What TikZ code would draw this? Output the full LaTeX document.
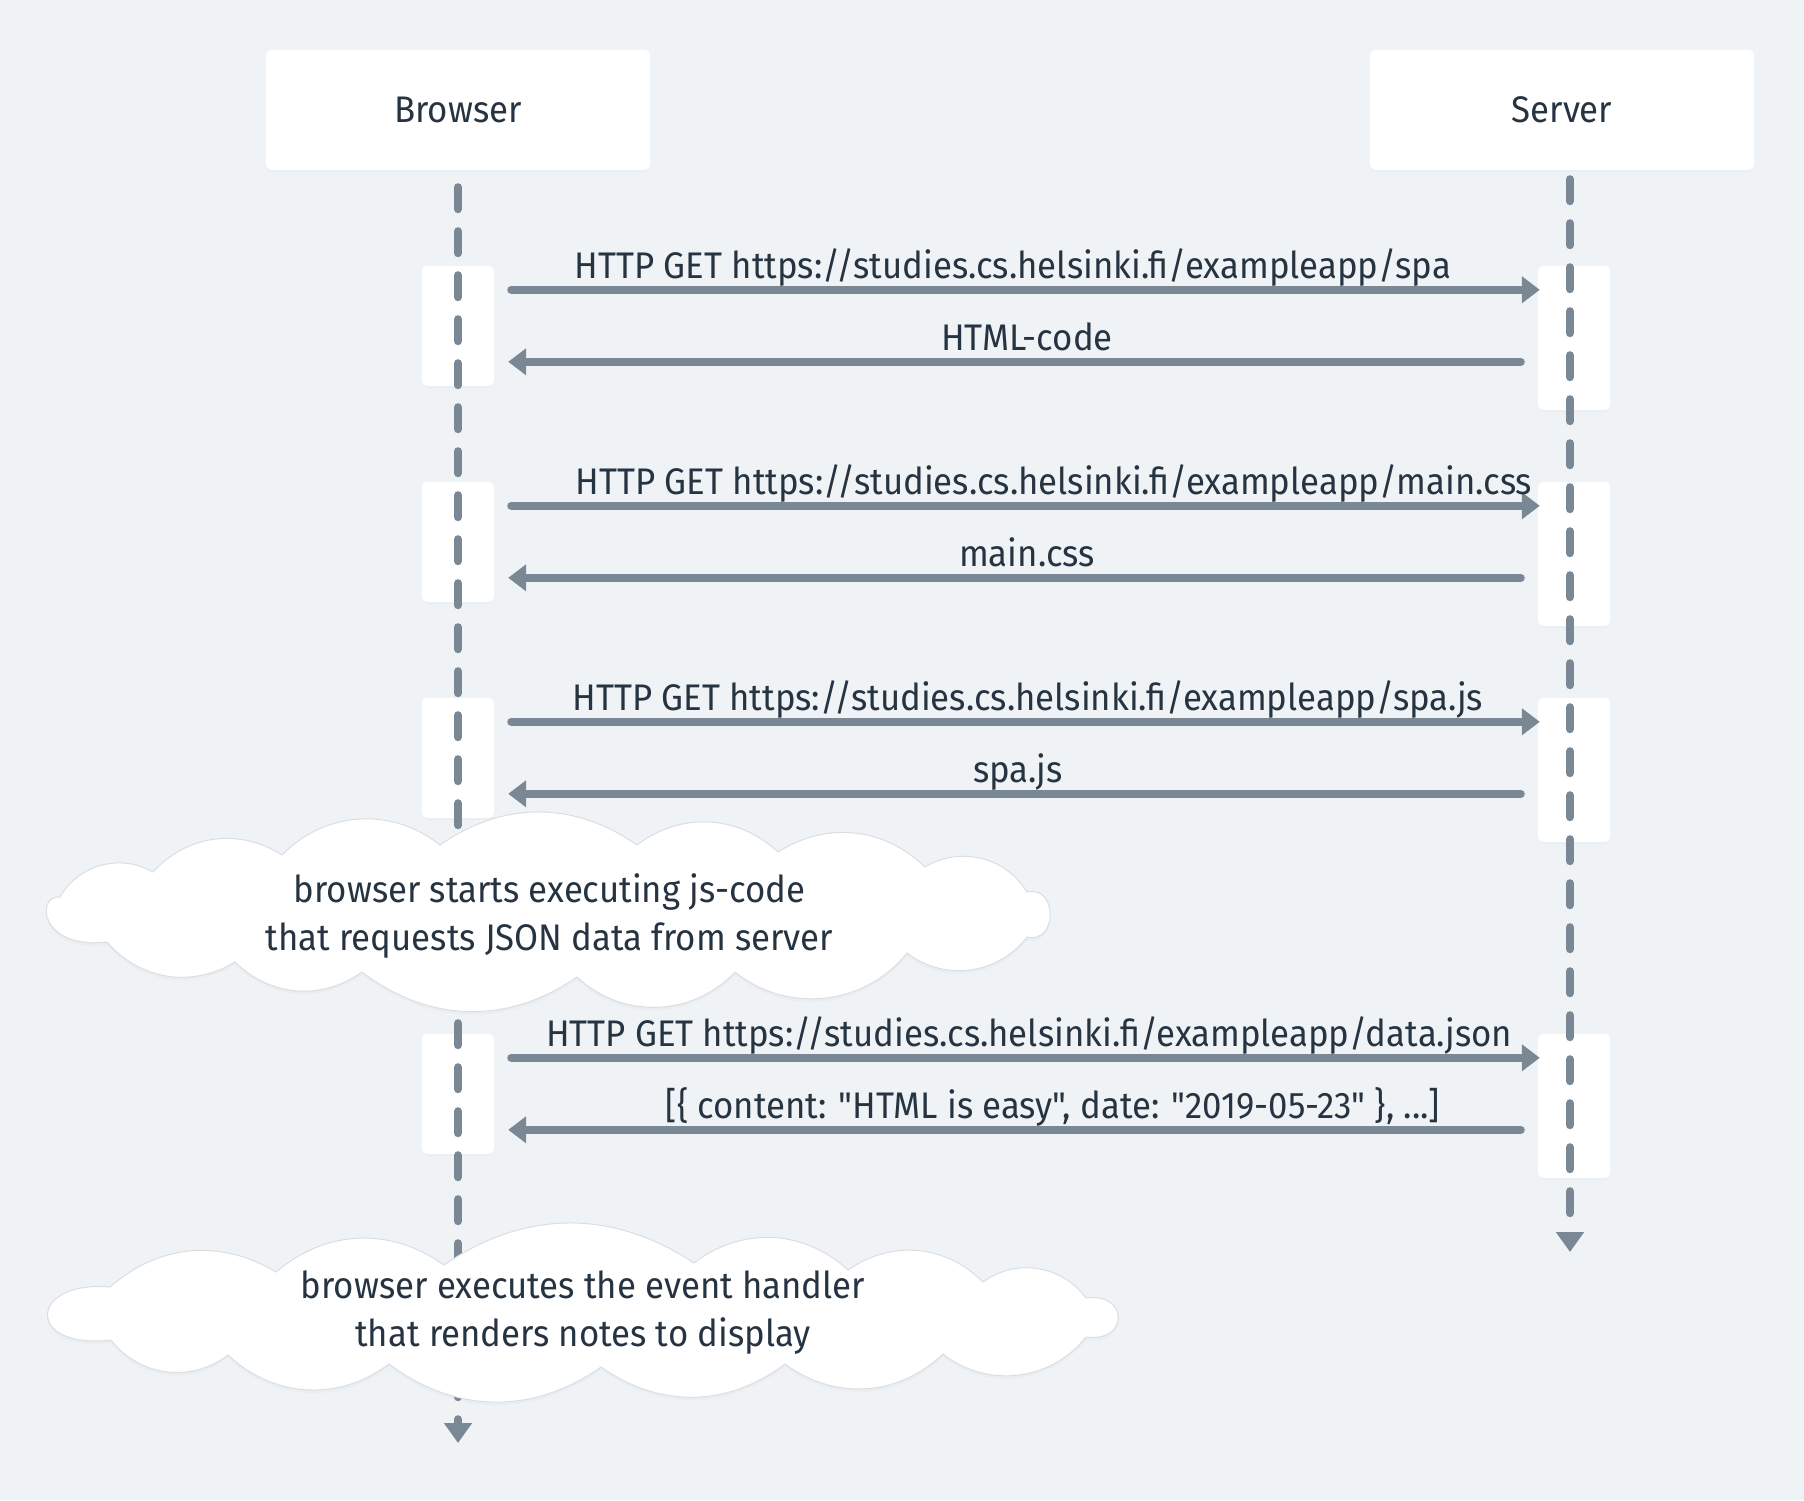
\documentclass[tikz,border=0pt]{standalone}
\usepackage{fontspec}
\setmainfont{Fira Sans}[FakeStretch=0.94,Ligatures=TeXOff]
\usetikzlibrary{arrows.meta,shadows}
\definecolor{bgc}{RGB}{239,243,246}
\definecolor{linec}{RGB}{122,136,150}
\definecolor{txtc}{RGB}{38,52,66}
\definecolor{cloudedge}{RGB}{218,222,227}
\begin{document}
\begin{tikzpicture}[x=1pt,y=-1pt,
  every node/.style={text=txtc, font=\fontsize{37}{48}\selectfont},
  actor/.style={fill=white, rounded corners=6pt, minimum width=384pt, minimum height=120pt, inner sep=0pt,
    drop shadow={opacity=0.035, shadow xshift=0pt, shadow yshift=-2pt}},
  act/.style={fill=white, rounded corners=5pt, minimum width=72pt, inner sep=0pt,
    drop shadow={opacity=0.035, shadow xshift=0pt, shadow yshift=-2pt}},
  bact/.style={act, minimum height=120pt},
  sact/.style={act, minimum height=144pt},
  life/.style={draw=linec, line width=8pt, line cap=round, dash pattern=on 22pt off 22pt,
    -{Triangle[width=27pt,length=20pt]}},
  msg/.style={draw=linec, line width=8pt, line cap=round, -{Triangle[width=26pt,length=18pt]}},
  lbl/.style={anchor=base, inner sep=0pt},
  cloudshape/.style={fill=white, draw=cloudedge, line width=1pt,
    drop shadow={opacity=0.04, shadow xshift=0pt, shadow yshift=-3pt}},
  cloudtxt/.style={anchor=base, align=center, inner sep=0pt}
]
\useasboundingbox[fill=bgc] (0,0) rectangle (1804,1500);

% actors
\node[actor] (browser) at (458,110) {Browser};
\node[actor] (server) at (1562,110) {Server};

% activation boxes
\node[bact] (b1) at (458,326) {};
\node[bact] (b2) at (458,542) {};
\node[bact] (b3) at (458,758) {};
\node[bact] (b4) at (458,1094) {};
\node[sact] (s1) at (1574,338) {};
\node[sact] (s2) at (1574,554) {};
\node[sact] (s3) at (1574,770) {};
\node[sact] (s4) at (1574,1106) {};

% lifelines
\coordinate (bend) at (458,1443);
\coordinate (send) at (1570,1252);
\draw[life] ([yshift=-17pt]browser.south) -- (bend);
\draw[life] ([xshift=8pt,yshift=-9pt]server.south) -- (send);

% messages
\foreach \i in {1,2,3,4}{
  \draw[msg] ([xshift=17pt,yshift=-24pt]b\i.north east) -- ([xshift=2pt,yshift=-24pt]s\i.north west);
  \draw[msg] ([xshift=-17pt,yshift=-96pt]s\i.north west) -- ([xshift=14pt,yshift=-96pt]b\i.north east);
}

% labels
\node[lbl] (l1f) at (1013,278) {HTTP GET https://studies.cs.helsinki.fi/exampleapp/spa};
\node[lbl] (l1r) at (1027,350) {HTML-code};
\node[lbl] (l2f) at (1054,494) {HTTP GET https://studies.cs.helsinki.fi/exampleapp/main.css};
\node[lbl] (l2r) at (1027,566) {main.css};
\node[lbl] (l3f) at (1028,710) {HTTP GET https://studies.cs.helsinki.fi/exampleapp/spa.js};
\node[lbl] (l3r) at (1018,782) {spa.js};
\node[lbl] (l4f) at (1029,1046) {HTTP GET https://studies.cs.helsinki.fi/exampleapp/data.json};
\node[lbl] (l4r) at (1053,1118) {[\{ content: "HTML is easy", date: "2019-05-23" \}, ...]};

% cloud 1
\path[cloudshape] (60,897) to[bend left=45] (153,872) to[bend left=40] (282,855)
  to[bend left=42] (440,845) to[bend left=35] (637,845) to[bend left=40] (778,852)
  to[bend left=38] (925,867) to[bend left=45] (1027,892)
  .. controls (1058,885) and (1058,944) .. (1027,937)
  to[bend left=45] (907,953) to[bend left=45] (735,972) to[bend left=45] (577,977)
  to[bend left=36] (362,972) to[bend left=40] (235,962) to[bend left=40] (107,942)
  .. controls (40,950) and (35,895) .. (60,897) -- cycle;
\node[cloudtxt] (c1) at (549.5,950) {browser starts executing js-code\\that requests JSON data from server};

% cloud 2
\path[cloudshape] (110,1287) to[bend left=36] (276,1272) to[bend left=38] (444,1265)
  to[bend left=34] (694,1263) to[bend left=40] (848,1270) to[bend left=40] (983,1282)
  to[bend left=45] (1086,1298)
  .. controls (1129,1292) and (1129,1343) .. (1086,1337)
  to[bend left=45] (943,1354) to[bend left=40] (785,1364) to[bend left=36] (601,1367)
  to[bend left=36] (389,1364) to[bend left=40] (228,1355) to[bend left=45] (111,1340)
  .. controls (25,1350) and (28,1280) .. (110,1287) -- cycle;
\node[cloudtxt] (c2) at (583,1346) {browser executes the event handler\\that renders notes to display};
\end{tikzpicture}
\end{document}
